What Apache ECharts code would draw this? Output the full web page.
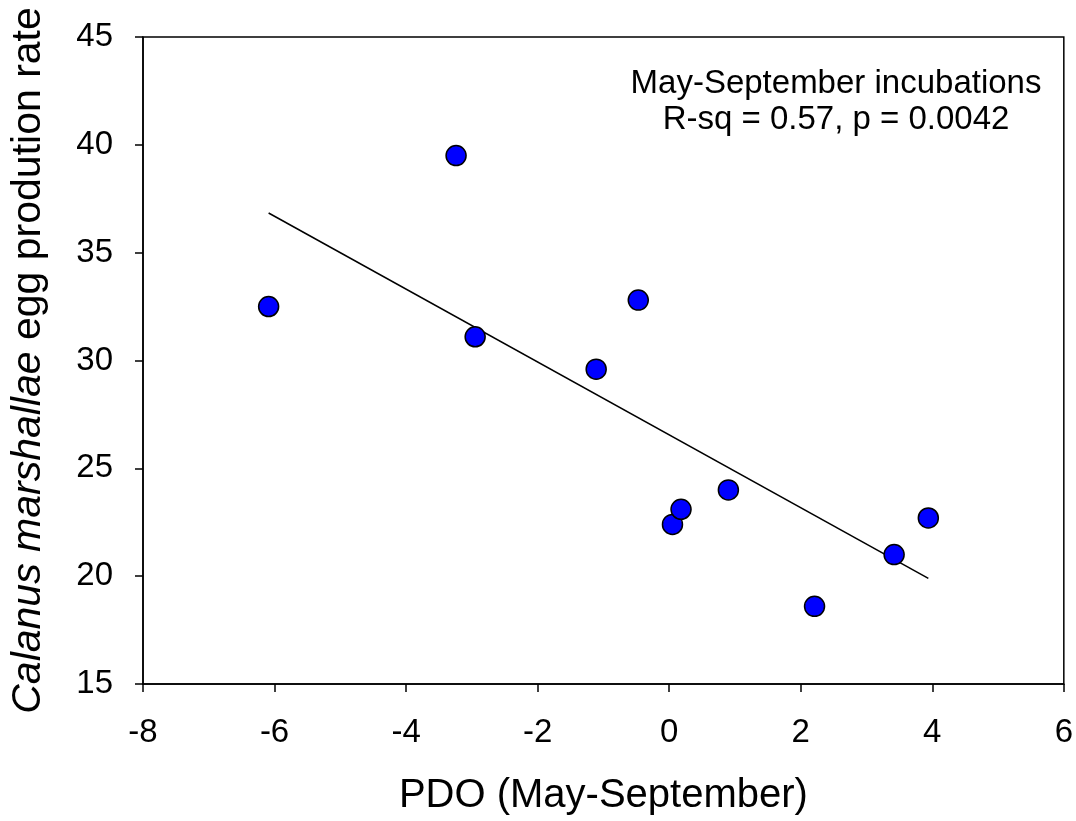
<!DOCTYPE html>
<html>
<head>
    <meta charset="utf-8">
    <title>Calanus marshallae egg production vs PDO</title>
    <script src="https://cdn.jsdelivr.net/npm/echarts@6/dist/echarts.min.js"></script>
    <style>
        html, body { margin: 0; padding: 0; background: #fff; }
    </style>
</head>
<body>
    <div id="main" style="width: 1076px;height:821px;"></div>
    <script type="text/javascript">
        // PDO (May-September) values
        var pdo = [-6.09, -3.24, -2.95, -1.11, -0.47, 0.05, 0.18, 0.9, 2.21, 3.42, 3.94];
        // egg production rate
        var eggRate = [32.5, 39.5, 31.1, 29.6, 32.8, 22.4, 23.1, 24.0, 18.6, 21.0, 22.7];
        // regression line end points
        var fitX = [-6.09, 3.94];
        var fitY = [36.84, 19.9];

        var xTicks = { min: -8, max: 6, interval: 2 };
        var yTicks = { min: 15, max: 45, interval: 5 };

        var noteLines = ['May-September incubations', 'R-sq = 0.57, p = 0.0042'];

        var font = "'Liberation Sans', Arial, sans-serif";

        var points = pdo.map(function (x, i) { return [x, eggRate[i]]; });
        var fitLine = fitX.map(function (x, i) { return [x, fitY[i]]; });

        var myChart = echarts.init(document.getElementById('main'));

        var option = {
            animation: false,
            backgroundColor: '#fff',
            grid: {
                left: 141,
                top: 37,
                right: 11,
                bottom: 136,
                show: true,
                borderColor: '#000',
                borderWidth: 1.5
            },
            xAxis: {
                type: 'value',
                min: xTicks.min,
                max: xTicks.max,
                interval: xTicks.interval,
                name: 'PDO (May-September)',
                nameLocation: 'middle',
                nameGap: 92,
                nameTextStyle: { color: '#000', fontFamily: font, fontSize: 40 },
                axisLine: { onZero: false, lineStyle: { color: '#000', width: 1.5 } },
                axisTick: { show: true, inside: false, length: 8, lineStyle: { color: '#000', width: 1.5 } },
                splitLine: { show: false },
                axisLabel: { color: '#000', fontFamily: font, fontSize: 33, margin: 32 }
            },
            yAxis: {
                type: 'value',
                min: yTicks.min,
                max: yTicks.max,
                interval: yTicks.interval,
                name: '{i|Calanus marshallae} egg prodution rate',
                nameLocation: 'middle',
                nameGap: 94,
                nameTextStyle: {
                    color: '#000', fontFamily: font, fontSize: 41,
                    rich: {
                        i: { fontStyle: 'italic', color: '#000', fontFamily: font, fontSize: 41 }
                    }
                },
                axisLine: { onZero: false, lineStyle: { color: '#000', width: 1.5 } },
                axisTick: { show: true, inside: false, length: 8, lineStyle: { color: '#000', width: 1.5 } },
                splitLine: { show: false },
                axisLabel: { color: '#000', fontFamily: font, fontSize: 33, margin: 30 }
            },
            graphic: [{
                type: 'text',
                x: 836,
                y: 66,
                style: {
                    text: noteLines.join('\n'),
                    fill: '#000',
                    fontFamily: font,
                    fontSize: 33,
                    textAlign: 'center',
                    lineHeight: 36
                }
            }],
            series: [{
                type: 'line',
                data: fitLine,
                symbol: 'none',
                lineStyle: { color: '#000', width: 1.5 },
                z: 2
            }, {
                type: 'scatter',
                data: points,
                symbol: 'circle',
                symbolSize: 20,
                itemStyle: { color: '#0000ff', borderColor: '#000', borderWidth: 1.5, opacity: 1 },
                z: 3
            }]
        };

        myChart.setOption(option);
    </script>
</body>
</html>
